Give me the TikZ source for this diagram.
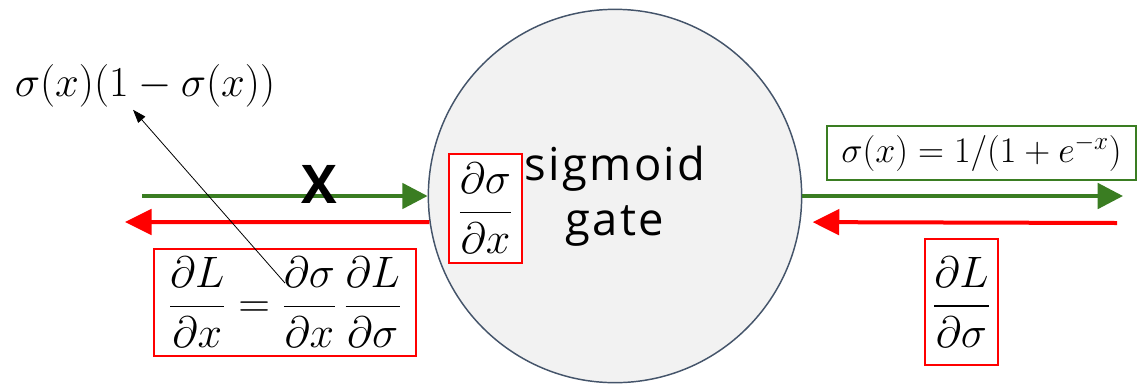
\RequirePackage{fix-cm}
\documentclass[tikz,border=0pt]{standalone}
\usepackage{amsmath}
\usepackage{fontspec}
\setsansfont{Open Sans}
\usetikzlibrary{arrows.meta,positioning}
\definecolor{GateFill}{HTML}{F2F2F2}
\definecolor{GateEdge}{HTML}{44546A}
\definecolor{FwdGreen}{HTML}{3A7D22}
\definecolor{BwdRed}{HTML}{FF0000}
\tikzset{
  gatenode/.style={circle,draw=GateEdge,line width=1.1pt,fill=GateFill,minimum size=280pt,inner sep=0pt,align=center,font=\sffamily\addfontfeature{LetterSpace=5}\fontsize{34}{41}\selectfont},
  gradbox/.style={draw=BwdRed,line width=1.1pt,fill=white,inner sep=2pt,font=\fontsize{33}{39}\selectfont},
  fwdbox/.style={draw=FwdGreen,line width=1.1pt,fill=white,inner sep=3pt,font=\fontsize{27}{32}\selectfont},
  fwdarrow/.style={-{Triangle[length=19pt,width=19pt]},line width=3pt,draw=FwdGreen},
  bwdarrow/.style={-{Triangle[length=20pt,width=19pt]},line width=3pt,draw=BwdRed},
  noteline/.style={-{Triangle[length=10pt,width=7pt]},line width=0.6pt,draw=black}
}
\begin{document}
\begin{tikzpicture}[x=0.75pt,y=-0.75pt]
\useasboundingbox (0,0) rectangle (1137,383);
% the gate and its local gradient
\node[gatenode] (gate) at (615,196) {sigmoid\\gate};
\node[gradbox,minimum width=55pt,minimum height=82pt] (locgrad) at (485.5,208.5) {$\dfrac{\partial\sigma}{\partial x}$};

% wires: forward (green) and backward (red)
\coordinate (inL) at (142,196);
\coordinate (gradL) at (125,222);
\coordinate (outR) at (1123,196);
\coordinate (gradR) at (1117,223);
\draw[fwdarrow] (inL) -- (gate.west);
\draw[bwdarrow] (gate.188) -- (gradL);
\draw[fwdarrow] (gate.east) -- (outR);
\draw[bwdarrow,shorten >=9pt] (gradR) -- (gate.352);

% labels
\node[font=\sffamily\bfseries\fontsize{40}{48}\selectfont] (xin) at (319,184) {X};
\node[fwdbox,minimum width=232pt,minimum height=40.5pt] (fwdfun) at (981.5,153) {$\sigma(x)=1/(1+e^{-x})$};
\node[gradbox,minimum width=55pt,minimum height=94.5pt] (upgrad) at (961.5,302) {$\dfrac{\partial L}{\partial\sigma}$};
\node[gradbox,minimum width=196.5pt,minimum height=80pt] (chain) at (285,302.5) {$\dfrac{\partial L}{\partial x}=\dfrac{\partial\sigma}{\partial x}\,\dfrac{\partial L}{\partial\sigma}$};
\node[inner sep=2pt,font=\fontsize{32}{38}\selectfont] (deriv) at (145,85.5) {$\sigma(x)(1-\sigma(x))$};
\coordinate (chainmid) at ([yshift=14.6pt]chain.center);
\draw[noteline] (chainmid) -- ([xshift=-9pt]deriv.south);
\end{tikzpicture}
\end{document}
